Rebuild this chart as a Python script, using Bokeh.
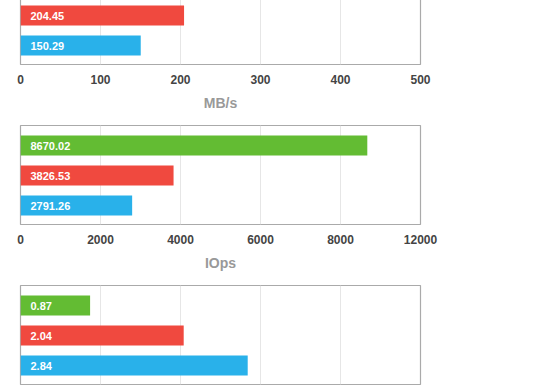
from bokeh.plotting import figure
from bokeh.models import ColumnDataSource, Range1d, FixedTicker
from bokeh.layouts import column
from bokeh.embed import file_html
from bokeh.resources import INLINE
from bokeh.core.properties import value

# ---- data ----
series_colors = ["#29b1ea", "#f0493f", "#63bc33"]   # blue, red, green (bottom to top)

mbs_values = [150.29, 204.45]            # MB/s (green bar scrolled out of view)
iops_values = [2791.26, 3826.53, 8670.02]  # IOps
third_values = [2.84, 2.04, 0.87]          # third chart

mbs_ticks = [0, 100, 200, 300, 400, 500]
mbs_tick_labels = ["0", "100", "200", "300", "400", "500"]
iops_ticks = [0, 2000, 4000, 6000, 8000, 10000]
iops_tick_labels = ["0", "2000", "4000", "6000", "8000", "12000"]
third_ticks = [0, 1, 2, 3, 4, 5]

FONT = "Liberation Sans"


def make_chart(values, ticks, tick_labels, axis_label, show_axis=True):
    p = figure(width=460, height=160, output_backend="svg", toolbar_location=None,
               x_range=Range1d(ticks[0], ticks[-1]), y_range=Range1d(-0.633, 2.667),
               min_border_left=20, min_border_right=40, min_border_top=10,
               min_border_bottom=51)
    n = len(values)
    src = ColumnDataSource(dict(
        y=list(range(n)),
        v=values,
        c=series_colors[:n],
        t=[f"{v:.2f}" for v in values],
    ))
    p.hbar(y="y", left=0, right="v", height=0.667, fill_color="c", line_color=None, source=src)
    p.text(x=0, y="y", text="t", source=src, x_offset=10, text_align="left",
           text_baseline="middle", text_color="white", text_font_size="11px",
           text_font=value(FONT), text_font_style="bold")

    p.yaxis.visible = False
    p.ygrid.visible = False
    p.xgrid.grid_line_color = "#e6e6e6"
    p.outline_line_color = "#aaaaaa"
    p.outline_line_width = 1.2
    p.background_fill_color = "white"
    p.border_fill_color = "white"

    ax = p.xaxis[0]
    ax.ticker = FixedTicker(ticks=ticks)
    p.xgrid.ticker = FixedTicker(ticks=ticks)
    if tick_labels is not None:
        ax.major_label_overrides = {t: l for t, l in zip(ticks, tick_labels)}
    ax.axis_line_color = None
    ax.major_tick_line_color = None
    ax.minor_tick_line_color = None
    ax.major_tick_out = 0
    ax.major_tick_in = 0
    ax.major_label_standoff = 10
    ax.major_label_text_font = FONT
    ax.major_label_text_font_size = "12px"
    ax.major_label_text_font_style = "bold"
    ax.major_label_text_color = "#444444"
    ax.axis_label = axis_label
    ax.axis_label_standoff = 8
    ax.axis_label_text_font = FONT
    ax.axis_label_text_font_size = "14px"
    ax.axis_label_text_font_style = "bold"
    ax.axis_label_text_color = "#999999"
    ax.visible = show_axis
    return p


p1 = make_chart(mbs_values, mbs_ticks, mbs_tick_labels, "MB/s")
p2 = make_chart(iops_values, iops_ticks, iops_tick_labels, "IOps")
# third chart's axis lies below the visible window in the reference
p3 = make_chart(third_values, third_ticks, None, None, show_axis=False)

layout = column(p1, p2, p3, spacing=0, styles={"margin-top": "-45px"})

open("out.html", "w").write(file_html(layout, INLINE))
